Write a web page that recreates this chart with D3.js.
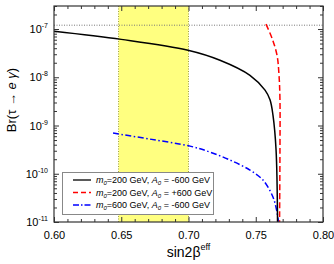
<!DOCTYPE html>
<html>
<head>
<meta charset="utf-8">
<script src="https://cdn.jsdelivr.net/npm/d3@7"></script>
<style>
  body { margin: 0; background: #fff; }
  svg { display: block; font-family: Arial, "Liberation Sans", sans-serif; }
</style>
</head>
<body>
<script>
// data
const xTicks = [0.60, 0.65, 0.70, 0.75, 0.80];
const yTicks = [1e-11, 1e-10, 1e-9, 1e-8, 1e-7];
const yTickExp = ["-11", "-10", "-9", "-8", "-7"];
const band = [0.648, 0.70];
const limit = 1.2e-7;

const blackX = [0.600, 0.650, 0.6996, 0.7234, 0.7457, 0.7569, 0.7606, 0.7628, 0.7651, 0.7662];
const blackY = [9.0e-8, 6.1e-8, 3.64e-8, 2.26e-8, 1.1e-8, 5.4e-9, 3.4e-9, 1.64e-9, 3.1e-10, 1e-11];

const redX = [0.7576, 0.7621, 0.7658, 0.7673, 0.7680, 0.7680, 0.7677];
const redY = [1.26e-7, 6.45e-8, 2.87e-8, 1.1e-8, 3.36e-9, 3.1e-10, 1e-11];

const blueX = [0.6439, 0.6714, 0.7011, 0.7160, 0.7309, 0.7457, 0.7554, 0.7628, 0.7658, 0.7669];
const blueY = [6.97e-10, 5.22e-10, 3.74e-10, 2.81e-10, 1.92e-10, 1.19e-10, 7.4e-11, 3.3e-11, 1.6e-11, 1e-11];

const legendM = ["200", "200", "600"];
const legendA = ["-600", "+600", "-600"];

const width = 334, height = 264;
const pLeft = 54, pRight = 323, pTop = 6, pBottom = 222;

const svg = d3.select("body").append("svg")
    .attr("width", width)
    .attr("height", height);

const x = d3.scaleLinear().domain([0.6, 0.8]).range([pLeft, pRight]);
const y = d3.scaleLog().domain([1e-11, 3e-7]).range([pBottom, pTop]);

svg.append("defs").append("clipPath").attr("id", "clip")
    .append("rect")
    .attr("x", pLeft).attr("y", pTop)
    .attr("width", pRight - pLeft).attr("height", pBottom - pTop);

// yellow band
svg.append("rect")
    .attr("x", x(band[0]))
    .attr("y", pTop)
    .attr("width", x(band[1]) - x(band[0]))
    .attr("height", pBottom - pTop)
    .attr("fill", "#ffff80");
band.forEach(b => {
    svg.append("line")
        .attr("x1", x(b)).attr("x2", x(b))
        .attr("y1", pTop).attr("y2", pBottom)
        .attr("stroke", "#a0a040")
        .attr("stroke-width", 1)
        .style("stroke-dasharray", "1,1.5");
});

// dotted limit line
svg.append("line")
    .attr("x1", pLeft).attr("x2", pRight)
    .attr("y1", y(limit)).attr("y2", y(limit))
    .attr("stroke", "#777")
    .attr("stroke-width", 1)
    .style("stroke-dasharray", "1,1.5");

// minor ticks
const xMinor = d3.range(61, 80).map(d => d / 100).filter(d => Math.round(d * 100) % 5 !== 0);
const yMinor = [];
yTicks.forEach(t => {
    for (let k = 2; k <= 9; k++) {
        if (t * k <= 3e-7) yMinor.push(t * k);
    }
});

function drawAxis(axis, transform) {
    const g = svg.append("g").attr("transform", transform).call(axis);
    g.select(".domain").remove();
    g.selectAll("line").attr("stroke", "#333");
    return g;
}

// x axes: bottom with labels, top without
const xb = drawAxis(d3.axisBottom(x).tickValues(xTicks).tickSize(-5).tickPadding(9)
    .tickFormat(d3.format(".2f")), `translate(0,${pBottom})`);
xb.selectAll("text").attr("font-size", 11).attr("fill", "#000")
    .attr("font-family", "Arial, 'Liberation Sans', sans-serif");
drawAxis(d3.axisBottom(x).tickValues(xMinor).tickSize(-3).tickFormat(""), `translate(0,${pBottom})`);
drawAxis(d3.axisTop(x).tickValues(xTicks).tickSize(-5).tickFormat(""), `translate(0,${pTop})`);
drawAxis(d3.axisTop(x).tickValues(xMinor).tickSize(-3).tickFormat(""), `translate(0,${pTop})`);

// y axes
drawAxis(d3.axisLeft(y).tickValues(yTicks).tickSize(-5).tickFormat(""), `translate(${pLeft},0)`);
drawAxis(d3.axisLeft(y).tickValues(yMinor).tickSize(-3).tickFormat(""), `translate(${pLeft},0)`);
drawAxis(d3.axisRight(y).tickValues(yTicks).tickSize(-5).tickFormat(""), `translate(${pRight},0)`);
drawAxis(d3.axisRight(y).tickValues(yMinor).tickSize(-3).tickFormat(""), `translate(${pRight},0)`);

// y tick labels with superscripts
yTicks.forEach((t, i) => {
    const txt = svg.append("text")
        .attr("x", pLeft - 6)
        .attr("y", y(t) + 4)
        .attr("text-anchor", "end")
        .attr("font-size", 11);
    txt.append("tspan").text("10");
    txt.append("tspan").attr("dy", -5).attr("font-size", 7).text(yTickExp[i]);
});

// curves
const line = d3.line()
    .x(d => x(d[0]))
    .y(d => y(d[1]))
    .curve(d3.curveCatmullRom.alpha(0.5));

const plot = svg.append("g").attr("clip-path", "url(#clip)");

plot.append("path")
    .datum(blueX.map((v, i) => [v, blueY[i]]))
    .attr("d", line)
    .attr("fill", "none")
    .attr("stroke", "#0000ff")
    .attr("stroke-width", 1.5)
    .style("stroke-dasharray", "6,2.5,1.5,2.5");

plot.append("path")
    .datum(blackX.map((v, i) => [v, blackY[i]]))
    .attr("d", line)
    .attr("fill", "none")
    .attr("stroke", "#000")
    .attr("stroke-width", 1.5);

plot.append("path")
    .datum(redX.map((v, i) => [v, redY[i]]))
    .attr("d", line)
    .attr("fill", "none")
    .attr("stroke", "#ff0000")
    .attr("stroke-width", 1.5)
    .style("stroke-dasharray", "6,3");

// frame
svg.append("rect")
    .attr("x", pLeft).attr("y", pTop)
    .attr("width", pRight - pLeft).attr("height", pBottom - pTop)
    .attr("fill", "none")
    .attr("stroke", "#333")
    .attr("stroke-width", 1.2);

// legend
const lg = svg.append("g");
lg.append("rect")
    .attr("x", 62.5).attr("y", 172.5)
    .attr("width", 151).attr("height", 42)
    .attr("fill", "#fff")
    .attr("stroke", "#888")
    .attr("stroke-width", 1);

const legStroke = ["#000", "#ff0000", "#0000ff"];
const legDash = [null, "5,3", "6,2,1.5,2"];
legendM.forEach((m, i) => {
    const ly = 180 + i * 12.5;
    lg.append("line")
        .attr("x1", 73).attr("x2", 91)
        .attr("y1", ly).attr("y2", ly)
        .attr("stroke", legStroke[i])
        .attr("stroke-width", 1.3)
        .style("stroke-dasharray", legDash[i]);
    const t = lg.append("text")
        .attr("x", 96)
        .attr("y", ly + 3)
        .attr("font-size", 9);
    t.append("tspan").attr("font-style", "italic").text("m");
    t.append("tspan").attr("font-style", "italic").attr("font-size", 6).attr("dy", 2).text("0");
    t.append("tspan").attr("dy", -2).text("=" + m + " GeV, ");
    t.append("tspan").attr("font-style", "italic").text("A");
    t.append("tspan").attr("font-style", "italic").attr("font-size", 6).attr("dy", 2).text("0");
    t.append("tspan").attr("dy", -2).text(" = " + legendA[i] + " GeV");
});

// axis titles
const xt = svg.append("text")
    .attr("x", (pLeft + pRight) / 2)
    .attr("y", 257)
    .attr("text-anchor", "middle")
    .attr("font-size", 14);
xt.append("tspan").text("sin2β");
xt.append("tspan").attr("dy", -7).attr("font-size", 9).text("eff");

const yt = svg.append("text")
    .attr("transform", `translate(16,${(pTop + pBottom) / 2 - 14}) rotate(-90)`)
    .attr("text-anchor", "middle")
    .attr("font-size", 13);
yt.append("tspan").text("Br(τ → ");
yt.append("tspan").attr("font-style", "italic").text("e γ");
yt.append("tspan").text(")");
</script>
</body>
</html>
